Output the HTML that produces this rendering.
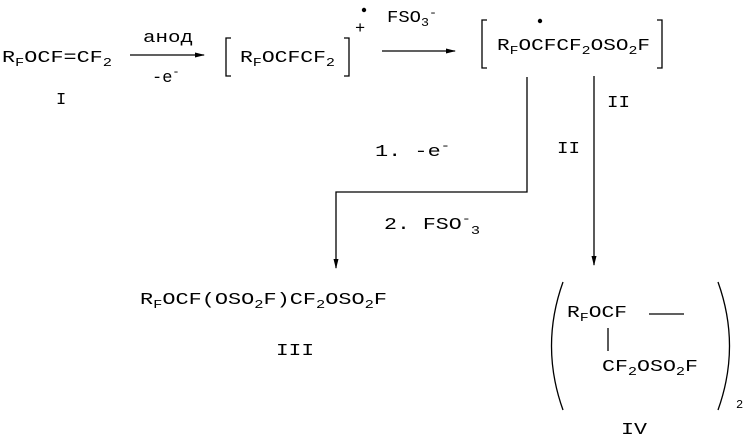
<!DOCTYPE html>
<html><head><meta charset="utf-8"><style>
html,body{margin:0;padding:0;background:#fff;}
svg{display:block;}
text{font-family:"Liberation Mono",monospace;font-size:17px;fill:#000;}
tspan{font-family:"Liberation Mono",monospace;}
.s{font-size:12px;}
</style></head><body>
<svg width="747" height="439" viewBox="0 0 747 439" xmlns="http://www.w3.org/2000/svg">
<defs><marker id="a" markerWidth="10" markerHeight="6" refX="9" refY="3" orient="auto" markerUnits="userSpaceOnUse"><path d="M0,0.5 L10,3 L0,5.5z" fill="#000"/></marker></defs>
<g stroke="#000" stroke-width="1.3" fill="none">
<line x1="130" y1="55" x2="204" y2="55" marker-end="url(#a)"/>
<line x1="382" y1="51" x2="455" y2="51" marker-end="url(#a)"/>
<path d="M231,38 H226 V76 H231"/>
<path d="M344,38 H349 V76 H344"/>
<path d="M487,20 H482 V68 H487"/>
<path d="M657,20 H662 V68 H657"/>
<path d="M527,77 V192 H336 V268" marker-end="url(#a)"/>
<line x1="594" y1="76" x2="594" y2="265" marker-end="url(#a)"/>
<line x1="649" y1="314" x2="684" y2="314"/>
<line x1="608" y1="328" x2="608" y2="351"/>
<path d="M563,282 Q540,346 563,410"/>
<path d="M718,282 Q741,346 718,410"/>
</g>
<circle cx="364" cy="10" r="2.2" fill="#000"/>
<circle cx="540" cy="21" r="2.2" fill="#000"/>
<text x="2" y="62" textLength="110" lengthAdjust="spacingAndGlyphs">R<tspan class="s" dy="4">F</tspan><tspan dy="-4">OCF=CF</tspan><tspan class="s" dy="4">2</tspan></text>
<text x="143" y="42" textLength="50" lengthAdjust="spacingAndGlyphs">анод</text>
<text x="152" y="82">-e<tspan class="s" dy="-7">-</tspan></text>
<text x="56" y="104">I</text>
<text x="240" y="62" textLength="95" lengthAdjust="spacingAndGlyphs">R<tspan class="s" dy="4">F</tspan><tspan dy="-4">OCFCF</tspan><tspan class="s" dy="4">2</tspan></text>
<text x="355" y="33" font-size="20">+</text>
<text x="387" y="22" textLength="50" lengthAdjust="spacingAndGlyphs">FSO<tspan class="s" dy="4">3</tspan><tspan class="s" dy="-10">-</tspan></text>
<text x="497" y="50" textLength="153" lengthAdjust="spacingAndGlyphs">R<tspan class="s" dy="4">F</tspan><tspan dy="-4">OCFCF</tspan><tspan class="s" dy="4">2</tspan><tspan dy="-4">OSO</tspan><tspan class="s" dy="4">2</tspan><tspan dy="-4">F</tspan></text>
<text x="607" y="107" textLength="23" lengthAdjust="spacingAndGlyphs">II</text>
<text x="557" y="153" textLength="23" lengthAdjust="spacingAndGlyphs">II</text>
<text x="375" y="156" textLength="75" lengthAdjust="spacingAndGlyphs">1. -e<tspan class="s" dy="-7">-</tspan></text>
<text x="384" y="229" textLength="96" lengthAdjust="spacingAndGlyphs">2. FSO<tspan class="s" dy="-7">-</tspan><tspan class="s" dy="12">3</tspan></text>
<text x="140" y="304" textLength="247" lengthAdjust="spacingAndGlyphs">R<tspan class="s" dy="4">F</tspan><tspan dy="-4">OCF(OSO</tspan><tspan class="s" dy="4">2</tspan><tspan dy="-4">F)CF</tspan><tspan class="s" dy="4">2</tspan><tspan dy="-4">OSO</tspan><tspan class="s" dy="4">2</tspan><tspan dy="-4">F</tspan></text>
<text x="276" y="355" textLength="38" lengthAdjust="spacingAndGlyphs">III</text>
<text x="567" y="317" textLength="60" lengthAdjust="spacingAndGlyphs">R<tspan class="s" dy="4">F</tspan><tspan dy="-4">OCF</tspan></text>
<text x="602" y="371" textLength="96" lengthAdjust="spacingAndGlyphs">CF<tspan class="s" dy="4">2</tspan><tspan dy="-4">OSO</tspan><tspan class="s" dy="4">2</tspan><tspan dy="-4">F</tspan></text>
<text x="736" y="408" class="s">2</text>
<text x="621" y="434" textLength="26" lengthAdjust="spacingAndGlyphs">IV</text>
</svg>
</body></html>
